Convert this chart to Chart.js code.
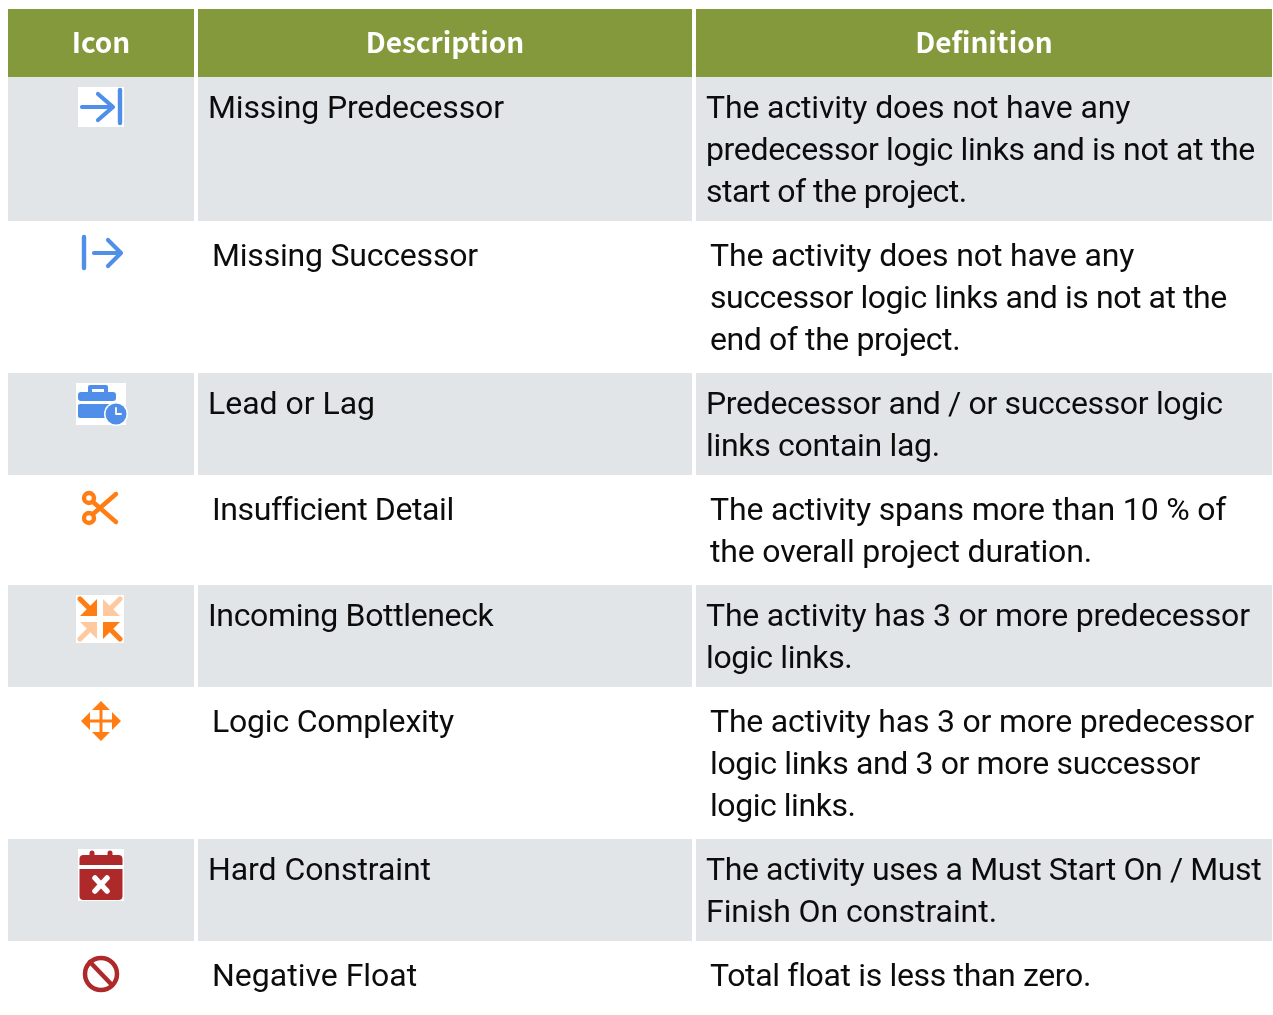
<!DOCTYPE html>
<html>
<head>
<meta charset="utf-8">
<title>Schedule check icons</title>
<script src="https://cdn.jsdelivr.net/npm/chart.js@4"></script>
<style>
  html, body { margin: 0; padding: 0; background: #fff; }
  canvas { display: block; }
</style>
</head>
<body>
<canvas id="tabla" width="1273" height="1015"></canvas>
<script>
// Table content
const columnas = ['Icon', 'Description', 'Definition'];
const descripciones = [
  'Missing Predecessor',
  'Missing Successor',
  'Lead or Lag',
  'Insufficient Detail',
  'Incoming Bottleneck',
  'Logic Complexity',
  'Hard Constraint',
  'Negative Float'
];
const definiciones = [
  ['The activity does not have any', 'predecessor logic links and is not at the', 'start of the project.'],
  ['The activity does not have any', 'successor logic links and is not at the', 'end of the project.'],
  ['Predecessor and / or successor logic', 'links contain lag.'],
  ['The activity spans more than 10 % of', 'the overall project duration.'],
  ['The activity has 3 or more predecessor', 'logic links.'],
  ['The activity has 3 or more predecessor', 'logic links and 3 or more successor', 'logic links.'],
  ['The activity uses a Must Start On / Must', 'Finish On constraint.'],
  ['Total float is less than zero.']
];

// Letter spacing per line: the reference has hinted advances, so lines differ a bit
const espacioDesc = [-0.15, -0.2, -0.02, -0.41, -0.36, -0.2, -0.07, 0];
const espacioDef = [
  [-0.13, -0.35, -0.53],
  [-0.13, -0.43, -0.41],
  [-0.34, -0.31],
  [-0.17, -0.17],
  [-0.2, -0.37],
  [-0.2, -0.37, -0.45],
  [-0.38, -0.06],
  [-0.34]
];

// Layout, in page pixels (the axes below run 1:1 with the canvas)
const VERDE = '#84993c', GRIS = '#e2e5e8', AZUL = '#4f8fe9', NARANJA = '#ff7d12', ROJO = '#ae2a2a';
const colIzq = [8, 198, 696], colAncho = [186, 494, 576];
const TOP = 9, ALTO_HEADER = 68, LINEA = 42;

// Row edges come from the number of text lines; shaded rows are 8px tighter
const bordes = [TOP, TOP + ALTO_HEADER];
definiciones.forEach((d, i) => {
  const alto = d.length * LINEA + (i % 2 === 0 ? 18 : 26);
  bordes.push(bordes[bordes.length - 1] + alto);
});
bordes[bordes.length - 1] = 1015;

function colorCelda(ctx) {
  if (ctx.dataIndex === 0) return VERDE;
  return ctx.dataIndex % 2 === 1 ? GRIS : '#ffffff';
}

const datasets = columnas.map((c, k) => ({
  label: c,
  stack: 'tabla',
  barThickness: colAncho[k],
  inflateAmount: 0,
  borderWidth: 0,
  backgroundColor: colorCelda,
  data: bordes.slice(0, -1).map((b, i) => ({ x: colIzq[k] + colAncho[k] / 2, y: [b, bordes[i + 1]] }))
}));

// Icon glyphs, local coordinates: origin = centre of icon column, top of the row
function linea(c, d, w) {
  c.lineCap = 'round';
  c.lineJoin = 'round';
  c.lineWidth = w;
  c.stroke(new Path2D(d));
}
function caja(c, x, y, w, h) {
  c.fillStyle = '#ffffff';
  c.fillRect(x, y, w, h);
}
const iconos = [
  c => { // missing predecessor
    caja(c, -23, 10, 46, 40);
    c.strokeStyle = AZUL;
    linea(c, 'M-19 30H11M-3 17L12 30L-3 43', 4.2);
    linea(c, 'M19 13V46', 4.4);
  },
  c => { // missing successor
    c.strokeStyle = AZUL;
    linea(c, 'M-17 16V47', 4.4);
    linea(c, 'M-7 32H18M7 19L20 32L7 45', 4.2);
  },
  c => { // lead or lag
    caja(c, -25, 10, 50, 42);
    c.fillStyle = AZUL;
    c.strokeStyle = AZUL;
    linea(c, 'M-11 19V14H5V19', 4);
    c.beginPath(); c.roundRect(-23, 19, 38, 9, 3); c.fill();
    c.beginPath(); c.roundRect(-23, 31, 34, 14, 2); c.fill();
    c.fillStyle = '#ffffff';
    c.beginPath(); c.arc(15, 41, 12, 0, 7); c.fill();
    c.fillStyle = AZUL;
    c.beginPath(); c.arc(15, 41, 10.5, 0, 7); c.fill();
    c.strokeStyle = '#ffffff';
    linea(c, 'M15 35V41H20', 1.8);
  },
  c => { // insufficient detail
    c.strokeStyle = NARANJA;
    linea(c, 'M-8 27L15 47M-8 39L15 19', 4.4);
    c.beginPath(); c.arc(-12, 23, 5, 0, 7); c.moveTo(-7, 43); c.arc(-12, 43, 5, 0, 7);
    c.lineWidth = 4.4;
    c.stroke();
  },
  c => { // incoming bottleneck
    caja(c, -25, 10, 48, 48);
    const flecha = (col, sx, sy) => {
      c.fillStyle = col;
      c.strokeStyle = col;
      c.save();
      c.translate(-1, 34);
      c.scale(sx, sy);
      c.fill(new Path2D('M3 3H20L3 20Z'));
      linea(c, 'M9 9L20 20', 5.2);
      c.restore();
    };
    flecha('#ffc99f', 1, -1);
    flecha('#ffc99f', -1, 1);
    flecha(NARANJA, -1, -1);
    flecha(NARANJA, 1, 1);
  },
  c => { // logic complexity
    c.strokeStyle = NARANJA;
    c.fillStyle = NARANJA;
    linea(c, 'M0 20V48M-14 34H14', 3);
    c.fill(new Path2D('M0 14L9 23H-9ZM0 54L9 45H-9ZM-20 34L-11 25V43ZM20 34L11 25V43Z'));
  },
  c => { // hard constraint
    caja(c, -23, 10, 46, 52);
    c.fillStyle = ROJO;
    c.strokeStyle = ROJO;
    linea(c, 'M-9 14V20M9 14V20', 5);
    c.beginPath(); c.roundRect(-21.5, 16, 43, 10, [4, 4, 0, 0]); c.fill();
    c.beginPath(); c.roundRect(-21.5, 30, 43, 31, [0, 0, 4, 4]); c.fill();
    c.strokeStyle = '#ffffff';
    linea(c, 'M-6 39L6 52M6 39L-6 52', 5.5);
  },
  c => { // negative float
    c.strokeStyle = ROJO;
    c.lineWidth = 4.5;
    c.beginPath(); c.arc(0, 33, 16, 0, 7); c.stroke();
    linea(c, 'M-11 21L11 44', 4.5);
  }
];

const tablaPlugin = {
  id: 'tablaTexto',
  afterDatasetsDraw(chart) {
    const c = chart.ctx;
    const X = chart.scales.x, Y = chart.scales.y;
    c.save();
    c.textBaseline = 'middle';

    // Header
    c.font = '700 28px "Noto Sans CJK SC"';
    c.fillStyle = '#ffffff';
    c.textAlign = 'center';
    columnas.forEach((t, k) => {
      c.fillText(t, X.getPixelForValue(colIzq[k] + colAncho[k] / 2), Y.getPixelForValue(TOP + ALTO_HEADER / 2 - 1));
    });

    // Body
    c.font = '32px Roboto';
    c.textAlign = 'left';
    c.fillStyle = '#0c0c0c';
    descripciones.forEach((t, i) => {
      const sombreada = i % 2 === 0;
      const dx = sombreada ? 10 : 14;
      const y0 = bordes[i + 1] + (sombreada ? 33 : 37);
      c.letterSpacing = espacioDesc[i] + 'px';
      c.fillText(t, X.getPixelForValue(colIzq[1] + dx), Y.getPixelForValue(y0));
      definiciones[i].forEach((l, n) => {
        c.letterSpacing = espacioDef[i][n] + 'px';
        c.fillText(l, X.getPixelForValue(colIzq[2] + dx), Y.getPixelForValue(y0 + n * LINEA));
      });
    });

    // Icons, softened a little like the reference's scaled bitmaps
    c.filter = 'blur(0.6px)';
    iconos.forEach((dibujar, i) => {
      c.save();
      c.translate(X.getPixelForValue(colIzq[0] + colAncho[0] / 2), Y.getPixelForValue(bordes[i + 1]));
      dibujar(c);
      c.restore();
    });
    c.restore();
  }
};

new Chart(document.getElementById('tabla').getContext('2d'), {
  type: 'bar',
  data: { datasets },
  plugins: [tablaPlugin],
  options: {
    responsive: false,
    animation: false,
    layout: { padding: 0 },
    plugins: { legend: { display: false }, tooltip: { enabled: false } },
    scales: {
      x: { type: 'linear', display: false, offset: false, min: 0, max: 1273 },
      y: { type: 'linear', display: false, min: 0, max: 1015, reverse: true }
    }
  }
});
</script>
</body>
</html>
